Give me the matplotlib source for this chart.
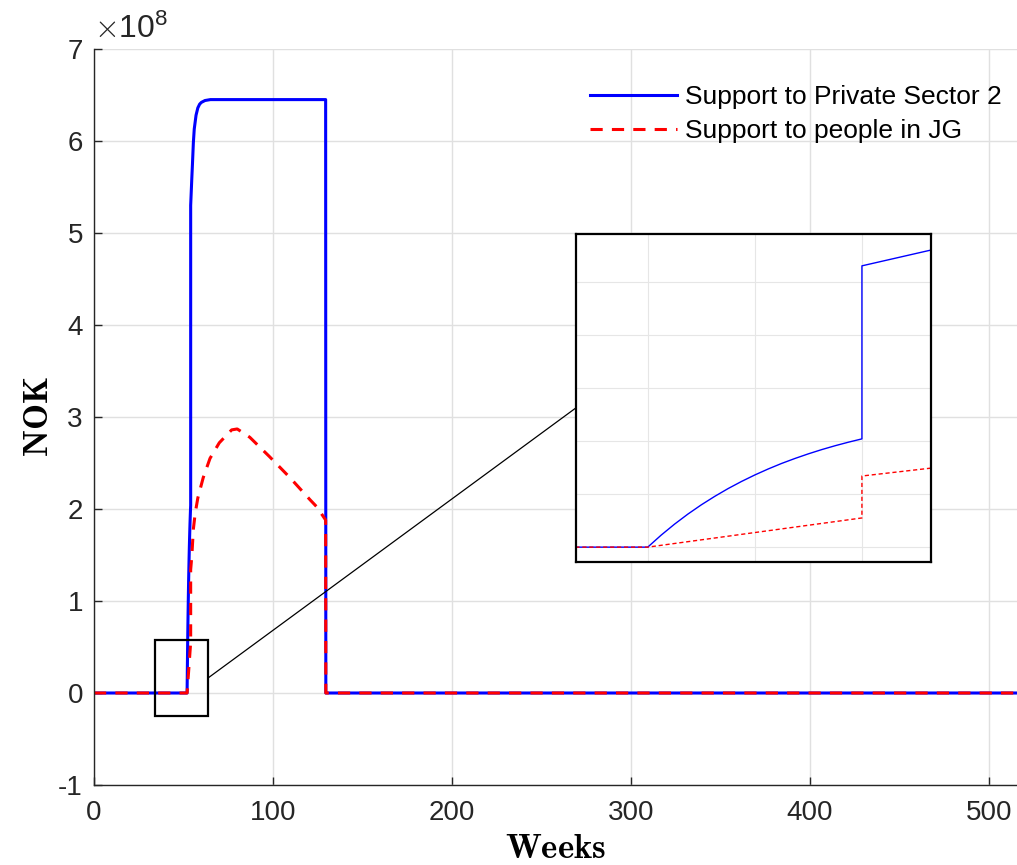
import matplotlib.pyplot as plt
from matplotlib.patches import Rectangle, ConnectionPatch

plt.rcParams['font.family'] = ['Liberation Sans', 'DejaVu Sans']
plt.rcParams['mathtext.fontset'] = 'cm'
plt.rcParams['axes.unicode_minus'] = False

# weeks and support amounts (NOK)
weeks_ps = [0, 52, 52.125, 52.25, 52.375, 52.5, 52.625, 52.75, 52.875, 53,
            53.125, 53.25, 53.375, 53.5, 53.625, 53.75, 53.875, 54, 54, 54.65,
            55, 55.5, 56, 57, 58, 59, 60, 62, 65, 129.4, 129.5, 516]
support_ps = [0, 0, 0.226e8, 0.433e8, 0.623e8, 0.797e8, 0.956e8, 1.103e8, 1.237e8, 1.36e8,
              1.473e8, 1.577e8, 1.671e8, 1.758e8, 1.838e8, 1.911e8, 1.978e8, 2.04e8, 5.30e8, 5.60e8,
              5.75e8, 5.98e8, 6.13e8, 6.28e8, 6.36e8, 6.40e8, 6.42e8, 6.44e8, 6.45e8, 6.45e8, 0, 0]

weeks_jg = [0, 52, 54, 54, 54.65, 55.5, 56.5, 58, 61, 64.8, 70, 76.9, 80, 87, 98,
            109.5, 120.7, 124.6, 129.4, 129.5, 516]
support_jg = [0, 0, 0.55e8, 1.34e8, 1.49e8, 1.78e8, 1.95e8, 2.12e8, 2.34e8, 2.55e8,
              2.72e8, 2.86e8, 2.87e8, 2.78e8, 2.57e8, 2.34e8, 2.10e8, 2.02e8, 1.88e8, 0, 0]

x_ticks = [0, 100, 200, 300, 400, 500]
y_ticks = [-1, 0, 1, 2, 3, 4, 5, 6, 7]   # in units of 1e8
y_scale = 1e8

# zoomed region
zoom_box = (34.1, -0.25e8, 63.7, 0.576e8)
inset_xlim = (51.33, 54.645)
inset_ylim = (-0.28e8, 5.9e8)

grey = (0.15, 0.15, 0.15)

fig = plt.figure(figsize=(10.17, 8.65), dpi=100)
ax = fig.add_axes([94 / 1017, 1 - 785 / 865, 1 - 94 / 1017, (785 - 49) / 865])

ax.plot(weeks_ps, support_ps, color=(0, 0, 1), lw=2.2, label="Support to Private Sector 2")
ax.plot(weeks_jg, support_jg, color=(1, 0, 0), lw=2.2, ls=(0, (4, 3)), label="Support to people in JG")

ax.set_xlim(0, 515.6)
ax.set_ylim(-1e8, 7e8)
ax.set_xticks(x_ticks)
ax.set_yticks([v * y_scale for v in y_ticks])
ax.set_yticklabels([str(v) for v in y_ticks])
ax.text(0.0, 1.005, r'$\times\mathdefault{10^{8}}$', transform=ax.transAxes,
        fontsize=23, color=grey, ha='left', va='bottom')

ax.grid(True, color=(0.88, 0.88, 0.88), lw=1)
ax.set_axisbelow(True)
ax.spines['top'].set_visible(False)
ax.spines['right'].set_visible(False)
for s in ['left', 'bottom']:
    ax.spines[s].set_color(grey)
    ax.spines[s].set_linewidth(1)
ax.tick_params(direction='in', length=6, width=1, colors=grey, labelsize=20)
ax.tick_params(axis='x', pad=11)
ax.tick_params(axis='y', pad=8)

ax.set_xlabel(r'$\mathbf{Weeks}$', fontsize=25, labelpad=4)
ax.set_ylabel(r'$\mathbf{NOK}$', fontsize=25, labelpad=2)

ax.legend(loc='upper left', bbox_to_anchor=(0.537, 0.951), frameon=False, fontsize=19,
          handlelength=3.3, handletextpad=0.3, labelspacing=0.38, borderpad=0, borderaxespad=0)

# rectangle marking the zoomed region
x0, y0, x1, y1 = zoom_box
ax.add_patch(Rectangle((x0, y0), x1 - x0, y1 - y0, fill=False, ec='black', lw=1.6, zorder=5))

axin = fig.add_axes([576 / 1017, 1 - 562 / 865, 355 / 1017, 328 / 865])
axin.plot(weeks_ps, support_ps, color=(0, 0, 1), lw=1.0)
axin.plot(weeks_jg, support_jg, color=(1, 0, 0), lw=1.0, ls=(0, (3, 2)))
axin.set_xlim(*inset_xlim)
axin.set_ylim(*inset_ylim)
axin.set_xticks([52, 53, 54])
axin.set_yticks([i * 1e8 for i in range(0, 6)])
axin.grid(True, color=(0.9, 0.9, 0.9), lw=0.8)
axin.set_axisbelow(True)
axin.tick_params(length=0, labelbottom=False, labelleft=False)
for s in axin.spines.values():
    s.set_linewidth(1.6)
    s.set_color('black')

con = ConnectionPatch(xyA=(x1, (y0 + y1) / 2), coordsA=ax.transData,
                      xyB=(0, 0.47), coordsB=axin.transAxes, color='black', lw=0.9)
fig.add_artist(con)

fig.savefig("out.png", dpi=100)
